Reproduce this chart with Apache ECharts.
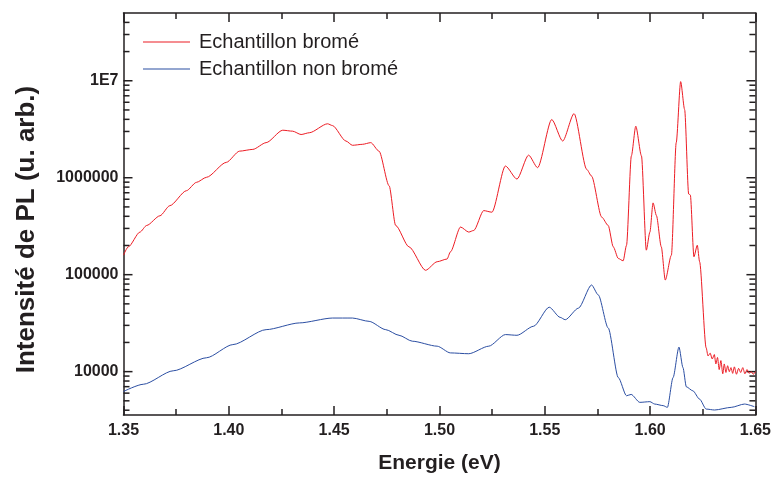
<!DOCTYPE html>
<html>
<head>
<meta charset="utf-8">
<script src="https://cdn.jsdelivr.net/npm/echarts@6/dist/echarts.min.js"></script>
<style>
  html, body { margin: 0; padding: 0; background: #fff; }
  #chart { width: 774px; height: 479px; }
</style>
</head>
<body>
<div id="chart"></div>
<script>
// Echantillon bromé (red)
var energyBrome = [1.3500, 1.3523, 1.3578, 1.3610, 1.3673, 1.3720, 1.3799, 1.3846, 1.3894, 1.3988,
  1.4051, 1.4114, 1.4177, 1.4256, 1.4303, 1.4343, 1.4382, 1.4469, 1.4492, 1.4556,
  1.4587, 1.4634, 1.4674, 1.4713, 1.4761, 1.4792, 1.4855, 1.4934, 1.4989, 1.5036,
  1.5052, 1.5100, 1.5139, 1.5163, 1.5210, 1.5249, 1.5313, 1.5368, 1.5423, 1.5466,
  1.5533, 1.5585, 1.5639, 1.5699, 1.5722, 1.5770, 1.5801, 1.5825, 1.5849, 1.5872,
  1.5888, 1.5911, 1.5932, 1.5959, 1.5982, 1.5999, 1.6014, 1.6030, 1.6053, 1.6072,
  1.6101, 1.6124, 1.6145, 1.6164, 1.6183, 1.6191, 1.6208, 1.6224, 1.6235, 1.6266,
  1.6275, 1.6285, 1.6295, 1.6305, 1.6312, 1.6320, 1.6328, 1.6336, 1.6345, 1.6352,
  1.6360, 1.6368, 1.6376, 1.6384, 1.6392, 1.6400, 1.6410, 1.6420, 1.6430, 1.6440,
  1.6450, 1.6460, 1.6470, 1.6480, 1.6490, 1.6500];
var intensityBrome = [1.59e5, 1.94e5, 2.75e5, 3.22e5, 4.05e5, 5.15e5, 7.35e5, 8.95e5, 1.01e6, 1.44e6,
  1.88e6, 1.96e6, 2.30e6, 3.09e6, 3.02e6, 2.79e6, 2.91e6, 3.60e6, 3.45e6, 2.39e6,
  2.16e6, 2.21e6, 2.30e6, 1.88e6, 8.26e5, 3.22e5, 1.94e5, 1.11e5, 1.36e5, 1.45e5,
  1.72e5, 3.10e5, 2.75e5, 2.86e5, 4.58e5, 4.41e5, 1.32e6, 9.68e5, 1.71e6, 1.27e6,
  3.98e6, 2.39e6, 4.58e6, 1.22e6, 1.04e6, 3.93e5, 3.22e5, 1.94e5, 1.47e5, 1.39e5,
  2.01e5, 1.68e6, 3.40e6, 1.68e6, 1.79e5, 2.75e5, 5.50e5, 4.07e5, 1.94e5, 8.8e4,
  1.59e5, 2.30e6, 9.8e6, 5.04e6, 6.8e5, 6.64e5, 1.53e5, 2.01e5, 1.36e5, 1.76e4,
  1.45e4, 1.55e4, 1.35e4, 1.5e4, 1.2e4, 1.4e4, 1.05e4, 1.3e4, 9.5e3, 1.2e4,
  9.8e3, 1.15e4, 1.0e4, 1.1e4, 9.6e3, 1.12e4, 9.4e3, 1.08e4, 9.8e3, 1.1e4,
  9.5e3, 1.05e4, 9.6e3, 1.0e4, 9.4e3, 1.0e4];

// Echantillon non bromé (blue)
var energyNonBrome = [1.3500, 1.3594, 1.3736, 1.3894, 1.4019, 1.4177, 1.4335, 1.4492, 1.4587, 1.4666,
  1.4745, 1.4808, 1.4871, 1.4989, 1.5052, 1.5139, 1.5234, 1.5313, 1.5368, 1.5447,
  1.5521, 1.5573, 1.5597, 1.5660, 1.5722, 1.5754, 1.5801, 1.5849, 1.5888, 1.5910,
  1.5951, 1.5999, 1.6022, 1.6062, 1.6082, 1.6109, 1.6137, 1.6156, 1.6172, 1.6203,
  1.6235, 1.6266, 1.6306, 1.6385, 1.6448, 1.6495];
var intensityNonBrome = [6240, 7410, 1.02e4, 1.39e4, 1.90e4, 2.71e4, 3.18e4, 3.57e4, 3.57e4, 3.30e4,
  2.71e4, 2.37e4, 2.06e4, 1.83e4, 1.56e4, 1.53e4, 1.83e4, 2.41e4, 2.37e4, 2.94e4,
  4.62e4, 3.63e4, 3.43e4, 4.52e4, 7.83e4, 6.18e4, 2.82e4, 8680, 5640, 5820,
  4820, 4900, 4630, 4460, 4280, 8680, 1.79e4, 1.10e4, 6970, 6340,
  5200, 4110, 4020, 4280, 4630, 4350];

var yMajor = [1e4, 1e5, 1e6, 1e7];
var yMinor = [4e3, 5e3, 6e3, 7e3, 8e3, 9e3,
  2e4, 3e4, 4e4, 5e4, 6e4, 7e4, 8e4, 9e4,
  2e5, 3e5, 4e5, 5e5, 6e5, 7e5, 8e5, 9e5,
  2e6, 3e6, 4e6, 5e6, 6e6, 7e6, 8e6, 9e6,
  2e7, 3e7, 4e7];

function pairs(xs, ys) {
  return xs.map(function (x, i) { return [x, ys[i]]; });
}

var ink = '#231f20';
var font = 'Liberation Sans, Arial, sans-serif';
var xMin = 1.35, xMax = 1.65;
var yMin = 3570, yMax = 5e7;

// log ticks on left and right frame (major 9px, minor 6px, pointing inward)
var tickData = yMajor.map(function (v) { return [xMin, v, 9]; })
  .concat(yMinor.map(function (v) { return [xMin, v, 6]; }));

function renderTick(params, api) {
  var v = api.value(1), len = api.value(2);
  var pl = api.coord([xMin, v]), pr = api.coord([xMax, v]);
  var st = { stroke: ink, lineWidth: 1.5 };
  return { type: 'group', children: [
    { type: 'line', shape: { x1: pl[0], y1: pl[1], x2: pl[0] + len, y2: pl[1] }, style: st },
    { type: 'line', shape: { x1: pr[0], y1: pr[1], x2: pr[0] - len, y2: pr[1] }, style: st }
  ] };
}

var chart = echarts.init(document.getElementById('chart'));
var option = {
  animation: false,
  backgroundColor: '#fff',
  grid: { left: 123.5, right: 16.5, top: 13, bottom: 61.3 },
  legend: {
    orient: 'vertical', left: 138, top: 27,
    icon: 'rect', itemWidth: 47, itemHeight: 1.2, itemGap: 7,
    textStyle: { color: ink, fontFamily: font, fontSize: 20, padding: [0, 0, 0, 4] },
    data: ['Echantillon bromé', 'Echantillon non bromé']
  },
  xAxis: [{
    type: 'value', position: 'bottom', min: xMin, max: xMax, interval: 0.05,
    splitLine: { show: false },
    axisLine: { lineStyle: { color: ink, width: 1.5 } },
    axisTick: { inside: true, length: 9, lineStyle: { color: ink, width: 1.5 } },
    minorTick: { show: true, splitNumber: 2, length: 6, lineStyle: { color: ink, width: 1.5 } },
    axisLabel: { margin: 8, color: ink, fontFamily: font, fontWeight: 'bold', fontSize: 16,
      formatter: function (v) { return v.toFixed(2); } },
    name: 'Energie (eV)', nameLocation: 'middle', nameGap: 38,
    nameTextStyle: { color: ink, fontFamily: font, fontWeight: 'bold', fontSize: 21 }
  }, {
    type: 'value', position: 'top', min: xMin, max: xMax, interval: 0.05,
    splitLine: { show: false },
    axisLine: { lineStyle: { color: ink, width: 1.5 } },
    axisTick: { inside: true, length: 9, lineStyle: { color: ink, width: 1.5 } },
    minorTick: { show: true, splitNumber: 2, length: 6, lineStyle: { color: ink, width: 1.5 } },
    axisLabel: { show: false }
  }],
  yAxis: [{
    type: 'log', logBase: 10, position: 'left', min: yMin, max: yMax,
    splitLine: { show: false },
    axisLine: { show: true, lineStyle: { color: ink, width: 1.5 } },
    axisTick: { show: false },
    axisLabel: {
      customValues: yMajor, margin: 5,
      color: ink, fontFamily: font, fontWeight: 'bold', fontSize: 16,
      formatter: function (v) { return v >= 1e7 ? '1E7' : String(Math.round(v)); }
    },
    name: 'Intensité de PL (u. arb.)', nameLocation: 'middle', nameGap: 84,
    nameTextStyle: { color: ink, fontFamily: font, fontWeight: 'bold', fontSize: 26,
      padding: [0, 31, 0, 0] }
  }, {
    type: 'log', logBase: 10, position: 'right', min: yMin, max: yMax,
    splitLine: { show: false },
    axisLine: { show: true, lineStyle: { color: ink, width: 1.5 } },
    axisTick: { show: false },
    axisLabel: { show: false }
  }],
  series: [{
    name: 'Echantillon bromé', type: 'line', xAxisIndex: 0, yAxisIndex: 0,
    data: pairs(energyBrome, intensityBrome),
    symbol: 'none', smooth: 0.25, smoothMonotone: 'x',
    lineStyle: { color: '#ec1c24', width: 1 }, itemStyle: { color: '#ec1c24' }
  }, {
    name: 'Echantillon non bromé', type: 'line', xAxisIndex: 0, yAxisIndex: 0,
    data: pairs(energyNonBrome, intensityNonBrome),
    symbol: 'none', smooth: 0.25, smoothMonotone: 'x',
    lineStyle: { color: '#2b4ea2', width: 1 }, itemStyle: { color: '#2b4ea2' }
  }, {
    type: 'custom', xAxisIndex: 0, yAxisIndex: 0, silent: true, clip: false, z: 3,
    encode: { x: 0, y: 1 },
    data: tickData,
    renderItem: renderTick
  }]
};
chart.setOption(option);
</script>
</body>
</html>
